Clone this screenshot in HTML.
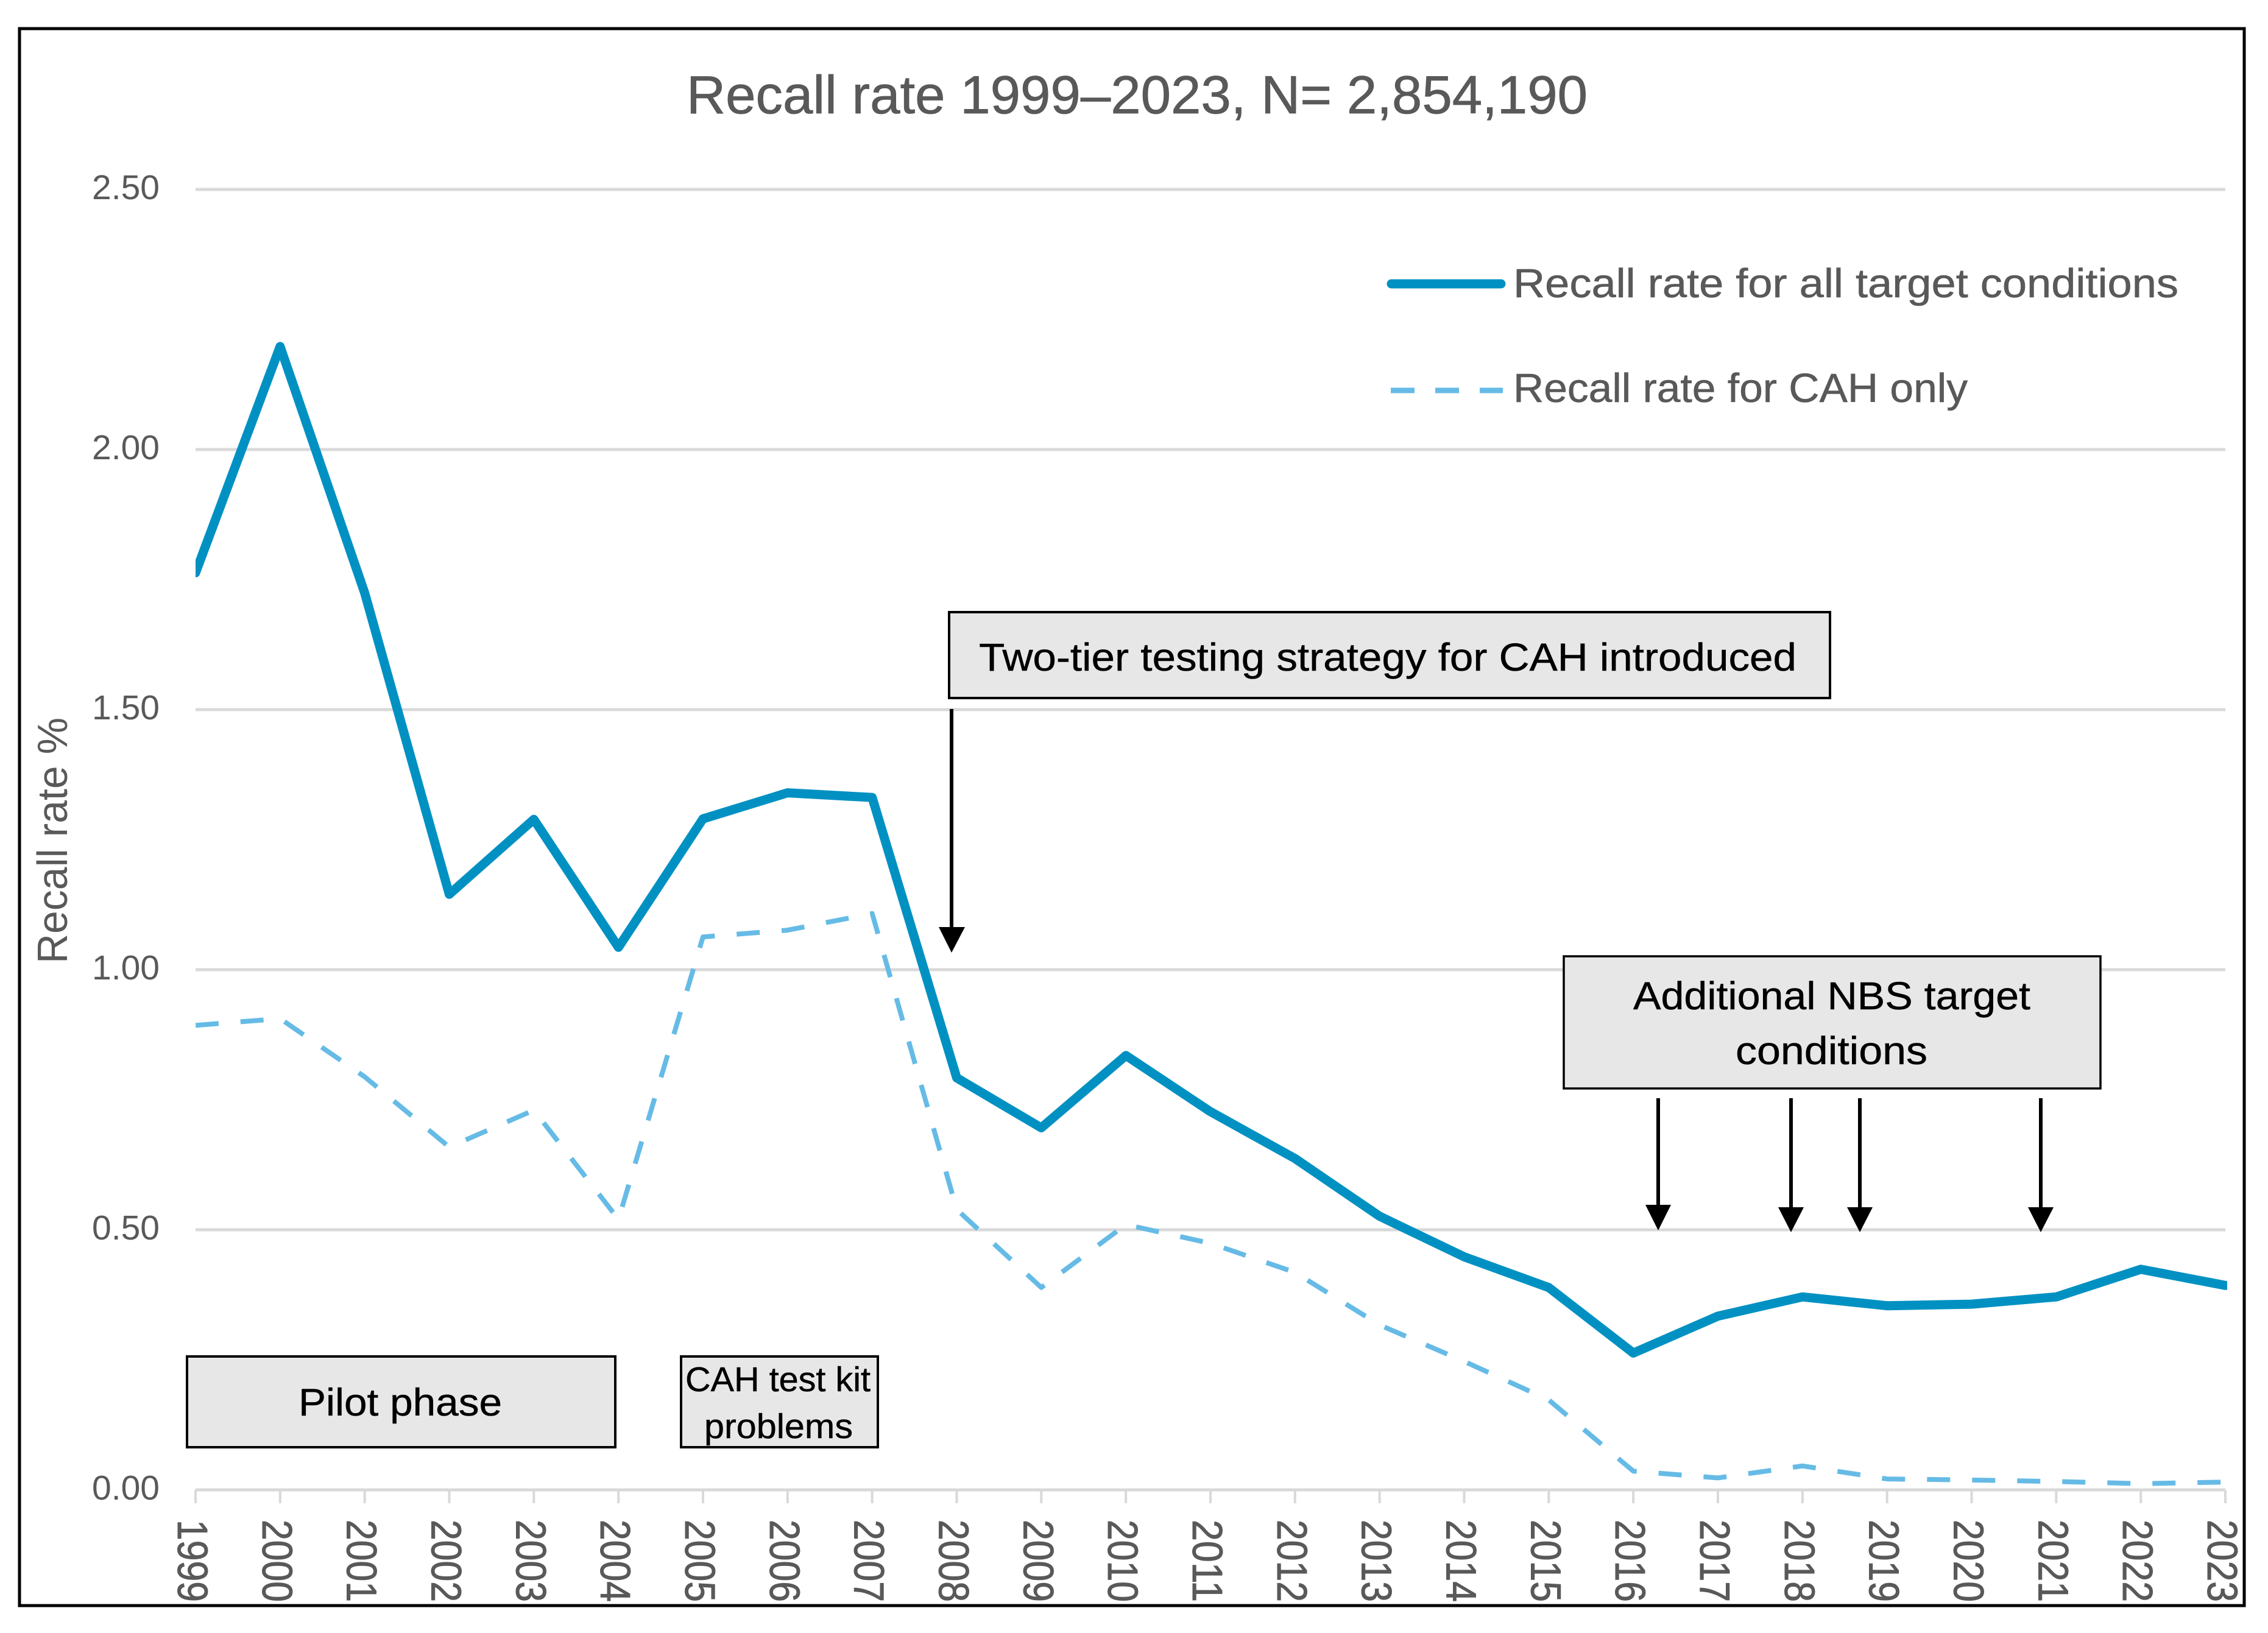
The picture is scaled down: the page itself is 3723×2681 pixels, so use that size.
<!DOCTYPE html>
<html lang="en">
<head>
<meta charset="utf-8">
<title>Recall rate 1999–2023</title>
<style>
  html, body { margin: 0; padding: 0; background: #fff; }
  body { width: 3723px; height: 2681px; overflow: hidden; }
  svg { display: block; }
  text { font-family: "Liberation Sans", Arial, sans-serif; }
</style>
</head>
<body>
<svg id="chart" xmlns="http://www.w3.org/2000/svg" width="3723" height="2681" viewBox="0 0 3723 2681">
  <defs>
    <clipPath id="plot-clip"><rect x="321" y="200" width="3335" height="2300"></rect></clipPath>
  </defs>
  <rect x="0" y="0" width="3723" height="2681" fill="#ffffff"></rect>
  <rect x="32" y="47" width="3652" height="2589" fill="#ffffff" stroke="#000000" stroke-width="5"></rect>

  <text x="1127" y="186" font-size="88" fill="#595959" stroke="#595959" stroke-width="0.8" textLength="1479" lengthAdjust="spacingAndGlyphs">Recall rate 1999–2023, N= 2,854,190</text>

  <g id="gridlines"></g>
  <g id="x-ticks"></g>
  <g id="y-labels"></g>
  <g id="x-labels"></g>

  <text transform="translate(110 1582) rotate(-90)" font-size="70" fill="#595959" textLength="404" lengthAdjust="spacingAndGlyphs">Recall rate %</text>

  <g id="series" clip-path="url(#plot-clip)"></g>

  <g>
    <line x1="2284" y1="466" x2="2464" y2="466" stroke="#0091C2" stroke-width="15" stroke-linecap="round"></line>
    <text x="2484" y="488" font-size="67" fill="#595959" stroke="#595959" stroke-width="0.6" textLength="1092" lengthAdjust="spacingAndGlyphs">Recall rate for all target conditions</text>
    <line x1="2283" y1="641" x2="2467" y2="641" stroke="#66BBE6" stroke-width="9" stroke-dasharray="39 34"></line>
    <text x="2484" y="660" font-size="67" fill="#595959" stroke="#595959" stroke-width="0.6" textLength="746" lengthAdjust="spacingAndGlyphs">Recall rate for CAH only</text>
  </g>

  <g>
    <rect x="1558" y="1005" width="1446" height="141" fill="#E7E7E7" stroke="#000000" stroke-width="4"></rect>
    <text x="1607" y="1101" font-size="64" fill="#000000" stroke="#000000" stroke-width="0.5" textLength="1342" lengthAdjust="spacingAndGlyphs">Two-tier testing strategy for CAH introduced</text>
    <line x1="1562" y1="1164" x2="1562" y2="1525" stroke="#000000" stroke-width="6"></line>
    <polygon points="1541,1522 1584,1522 1562,1564" fill="#000000"></polygon>
  </g>

  <g>
    <rect x="2567" y="1570" width="881" height="217" fill="#E7E7E7" stroke="#000000" stroke-width="3.5"></rect>
    <text x="2681" y="1657" font-size="64" fill="#000000" stroke="#000000" stroke-width="0.5" textLength="652" lengthAdjust="spacingAndGlyphs">Additional NBS target</text>
    <text x="2849" y="1747" font-size="64" fill="#000000" stroke="#000000" stroke-width="0.5" textLength="315" lengthAdjust="spacingAndGlyphs">conditions</text>
    <line x1="2722" y1="1803" x2="2722" y2="1985" stroke="#000000" stroke-width="6"></line>
    <polygon points="2701,1978 2743,1978 2722,2020" fill="#000000"></polygon>
    <line x1="2940" y1="1803" x2="2940" y2="1988" stroke="#000000" stroke-width="6"></line>
    <polygon points="2919,1982 2961,1982 2940,2023" fill="#000000"></polygon>
    <line x1="3053" y1="1803" x2="3053" y2="1988" stroke="#000000" stroke-width="6"></line>
    <polygon points="3032,1982 3074,1982 3053,2023" fill="#000000"></polygon>
    <line x1="3350" y1="1803" x2="3350" y2="1988" stroke="#000000" stroke-width="6"></line>
    <polygon points="3329,1982 3371,1982 3350,2023" fill="#000000"></polygon>
  </g>

  <g>
    <rect x="307" y="2227" width="703" height="149" fill="#E7E7E7" stroke="#000000" stroke-width="4"></rect>
    <text x="490" y="2324" font-size="63" fill="#000000" stroke="#000000" stroke-width="0.5" textLength="334" lengthAdjust="spacingAndGlyphs">Pilot phase</text>
  </g>

  <g>
    <rect x="1118" y="2227" width="323" height="149" fill="#E7E7E7" stroke="#000000" stroke-width="4"></rect>
    <text x="1125" y="2284" font-size="57" fill="#000000" stroke="#000000" stroke-width="0.5" textLength="304" lengthAdjust="spacingAndGlyphs">CAH test kit</text>
    <text x="1156" y="2361" font-size="57" fill="#000000" stroke="#000000" stroke-width="0.5" textLength="244" lengthAdjust="spacingAndGlyphs">problems</text>
  </g>
</svg>

<script>
const years = ['1999','2000','2001','2002','2003','2004','2005','2006','2007','2008','2009','2010','2011','2012','2013','2014','2015','2016','2017','2018','2019','2020','2021','2022','2023'];
const recallAll = [1.763,2.198,1.724,1.145,1.289,1.043,1.290,1.340,1.331,0.792,0.696,0.835,0.727,0.637,0.526,0.448,0.389,0.263,0.334,0.371,0.354,0.357,0.371,0.424,0.393];
const recallCah = [0.893,0.906,0.794,0.659,0.730,0.520,1.063,1.076,1.108,0.539,0.389,0.510,0.474,0.418,0.317,0.247,0.173,0.036,0.023,0.046,0.021,0.019,0.016,0.012,0.015];
const yTickValues = [0,0.5,1,1.5,2,2.5];
const yTickLabels = ['0.00','0.50','1.00','1.50','2.00','2.50'];

const SVG_NS = 'http://www.w3.org/2000/svg';
const plotLeft = 321, plotRight = 3653, plotBottom = 2446, plotTop = 311, yMax = 2.5;

function xScale(i) { return plotLeft + i * (plotRight - plotLeft) / (years.length - 1); }
function yScale(v) { return plotBottom - v * (plotBottom - plotTop) / yMax; }
function make(tag, props) {
  const el = document.createElementNS(SVG_NS, tag);
  for (const k in props) el.setAttribute(k, props[k]);
  return el;
}
function linePath(values) {
  return values.map(function (v, i) { return (i ? 'L' : 'M') + xScale(i).toFixed(1) + ' ' + yScale(v).toFixed(1); }).join(' ');
}

const gridGroup = document.getElementById('gridlines');
const yLabelGroup = document.getElementById('y-labels');
yTickValues.forEach(function (v, i) {
  const line = make('line', { x1: plotLeft, x2: plotRight, y1: yScale(v), y2: yScale(v), stroke: '#D9D9D9', 'stroke-width': 5 });
  
  
  gridGroup.appendChild(line);

  const label = make('text', { x: 262, y: yScale(v) + 16, 'text-anchor': 'end', 'font-size': 57, fill: '#595959' });
  
  
  label.textContent = yTickLabels[i];
  yLabelGroup.appendChild(label);
});

const xTickGroup = document.getElementById('x-ticks');
const xLabelGroup = document.getElementById('x-labels');
years.forEach(function (year, i) {
  const tick = make('line', { x1: xScale(i), x2: xScale(i), y1: plotBottom, y2: plotBottom + 22, stroke: '#D9D9D9', 'stroke-width': 4 });
  
  
  xTickGroup.appendChild(tick);

  const label = make('text', { transform: 'translate(' + (xScale(i) - 29) + ' 2495) rotate(90)', 'font-size': 70, fill: '#595959', stroke: '#595959', 'stroke-width': 1, textLength: 135, lengthAdjust: 'spacingAndGlyphs' });
  
  
  label.textContent = year;
  xLabelGroup.appendChild(label);
});

const seriesGroup = document.getElementById('series');
const cahLine = make('path', { d: linePath(recallCah), fill: 'none', stroke: '#66BBE6', 'stroke-width': 8, 'stroke-dasharray': '38 36', 'stroke-linejoin': 'round' });


seriesGroup.appendChild(cahLine);

const allLine = make('path', { d: linePath(recallAll), fill: 'none', stroke: '#0091C2', 'stroke-width': 15, 'stroke-linejoin': 'round', 'stroke-linecap': 'round' });


seriesGroup.appendChild(allLine);
</script>
</body>
</html>
